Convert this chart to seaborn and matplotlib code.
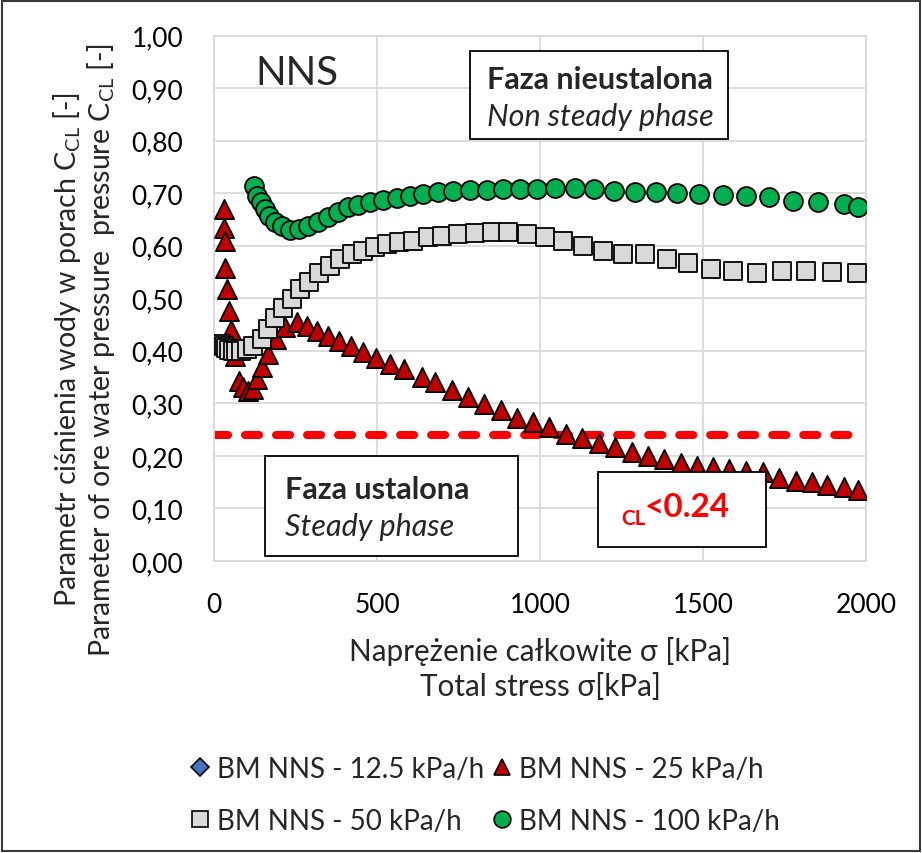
import numpy as np
import pandas as pd
import seaborn as sns
import matplotlib.pyplot as plt
from matplotlib import patches
from matplotlib.lines import Line2D

# ------------------------------------------------------------------
# Data (total stress [kPa] vs C_CL [-])
# ------------------------------------------------------------------
# BM NNS - 12.5 kPa/h : no visible points (legend entry only)
x_125 = []
y_125 = []

# BM NNS - 25 kPa/h (red triangles)
x_25 = [31, 31, 34, 34, 40, 46, 52, 64, 77, 90, 105, 120, 132, 147, 166, 190,
        218, 254, 285, 315, 349, 383, 420, 457, 497, 540, 583, 637, 678, 730,
        779, 828, 880, 929, 979, 1028, 1080, 1129, 1181, 1230, 1282, 1331,
        1380, 1432, 1482, 1531, 1580, 1632, 1684, 1733, 1785, 1834, 1880,
        1933, 1975]
y_25 = [0.670, 0.634, 0.609, 0.558, 0.518, 0.476, 0.440, 0.390, 0.343, 0.331,
        0.324, 0.327, 0.346, 0.369, 0.394, 0.422, 0.445, 0.455, 0.447, 0.438,
        0.428, 0.419, 0.409, 0.398, 0.386, 0.375, 0.366, 0.350, 0.341, 0.326,
        0.312, 0.299, 0.288, 0.272, 0.265, 0.255, 0.242, 0.234, 0.225, 0.217,
        0.207, 0.200, 0.194, 0.186, 0.181, 0.179, 0.175, 0.171, 0.169, 0.158,
        0.152, 0.150, 0.145, 0.141, 0.135]

# BM NNS - 50 kPa/h (grey squares)
x_50 = [22, 30, 38, 47, 57, 68, 83, 100, 120, 147, 166, 187, 211, 239, 264,
        291, 322, 356, 387, 423, 457, 494, 531, 567, 610, 656, 699, 749, 801,
        852, 902, 960, 1015, 1071, 1132, 1193, 1255, 1322, 1389, 1454, 1525,
        1592, 1666, 1742, 1816, 1896, 1972]
y_50 = [0.412, 0.410, 0.405, 0.402, 0.400, 0.399, 0.400, 0.403, 0.410, 0.423,
        0.441, 0.462, 0.481, 0.499, 0.518, 0.531, 0.548, 0.561, 0.575, 0.584,
        0.590, 0.598, 0.603, 0.607, 0.609, 0.617, 0.619, 0.622, 0.624, 0.626,
        0.626, 0.622, 0.617, 0.609, 0.600, 0.590, 0.584, 0.584, 0.575, 0.567,
        0.556, 0.552, 0.548, 0.552, 0.552, 0.550, 0.548]

# BM NNS - 100 kPa/h (green circles)
x_100 = [123, 132, 144, 156, 169, 187, 208, 233, 261, 288, 319, 350, 380, 411,
         442, 478, 518, 561, 601, 642, 687, 733, 785, 837, 887, 939, 991, 1046,
         1107, 1166, 1227, 1291, 1356, 1420, 1488, 1561, 1632, 1702, 1776,
         1853, 1933, 1975]
y_100 = [0.714, 0.695, 0.683, 0.670, 0.657, 0.645, 0.637, 0.630, 0.632, 0.638,
         0.645, 0.655, 0.664, 0.673, 0.678, 0.683, 0.687, 0.691, 0.695, 0.698,
         0.702, 0.704, 0.706, 0.706, 0.708, 0.708, 0.708, 0.710, 0.710, 0.708,
         0.704, 0.702, 0.702, 0.700, 0.698, 0.697, 0.695, 0.693, 0.685, 0.683,
         0.679, 0.674]

threshold = 0.24
threshold_x = [0, 1970]

x_ticks = [0, 500, 1000, 1500, 2000]
y_ticks = [0.0, 0.1, 0.2, 0.3, 0.4, 0.5, 0.6, 0.7, 0.8, 0.9, 1.0]
y_ticklabels = [f"{v:.2f}".replace(".", ",") for v in y_ticks]

series = [
    # name, x, y, marker, fill, size
    ("BM NNS - 12.5 kPa/h", x_125, y_125, "D", "#4472C4", 100),
    ("BM NNS - 25 kPa/h", x_25, y_25, "^", "#C00000", 190),
    ("BM NNS - 50 kPa/h", x_50, y_50, "s", "#D9D9D9", 170),
    ("BM NNS - 100 kPa/h", x_100, y_100, "o", "#00B050", 185),
]

# ------------------------------------------------------------------
# Style
# ------------------------------------------------------------------
sns.set_theme(style="white")
plt.rcParams["font.family"] = ["Lato", "DejaVu Sans"]
plt.rcParams["mathtext.fontset"] = "custom"
plt.rcParams["mathtext.rm"] = "Lato"
plt.rcParams["mathtext.it"] = "Lato:italic"
plt.rcParams["mathtext.bf"] = "Lato:bold"
fs_tick = 19
fs_text = 22

fig = plt.figure(figsize=(9.22, 8.54), dpi=100)
ax = fig.add_axes([214 / 922, 1 - 562 / 854, 652 / 922, 525.5 / 854])

# ------------------------------------------------------------------
# Series
# ------------------------------------------------------------------
for i, (name, xs, ys, mk, col, size) in enumerate(series):
    if len(xs) == 0:
        continue
    d = pd.DataFrame({"stress": xs, "ccl": ys})
    sns.scatterplot(data=d, x="stress", y="ccl", marker=mk, color=col, s=size,
                    edgecolor="black", linewidth=1.3, ax=ax, zorder=3 + i,
                    legend=False)

ax.hlines(threshold, threshold_x[0], threshold_x[1], colors="#FF0000",
          linewidth=5.8, linestyles=(0, (1.75, 2.1)), capstyle="round", zorder=2)

ax.set_xlim(0, 2000)
ax.set_ylim(0, 1.0)
ax.set_xticks(x_ticks)
ax.set_yticks(y_ticks)
ax.set_yticklabels(y_ticklabels)
ax.tick_params(axis="both", length=0, labelsize=fs_tick, colors="#000000")
ax.tick_params(axis="x", pad=22)
ax.tick_params(axis="y", pad=22)
ax.grid(True, color="#D9D9D9", linewidth=1.3)
ax.set_axisbelow(True)
for sp in ax.spines.values():
    sp.set_color("#D9D9D9")
    sp.set_linewidth(1.3)
ax.set_xlabel("")
ax.set_ylabel("")

# ------------------------------------------------------------------
# Annotations
# ------------------------------------------------------------------
ax.text(255, 0.93, "NNS", fontsize=29, ha="center", va="center", zorder=8)

ax.add_patch(patches.Rectangle((785, 0.803), 792, 0.167, facecolor="white",
                               edgecolor="black", linewidth=1.3, zorder=7))
ax.text(836, 0.917, "Faza nieustalona", fontsize=fs_text, fontweight="bold",
        ha="left", va="center", zorder=8)
ax.text(836, 0.847, "Non steady phase", fontsize=fs_text, style="italic",
        ha="left", va="center", zorder=8)

ax.add_patch(patches.Rectangle((156, 0.0095), 777, 0.19, facecolor="white",
                               edgecolor="black", linewidth=1.3, zorder=7))
ax.text(218, 0.137, "Faza ustalona", fontsize=fs_text, fontweight="bold",
        ha="left", va="center", zorder=8)
ax.text(218, 0.067, "Steady phase", fontsize=fs_text, style="italic",
        ha="left", va="center", zorder=8)

ax.add_patch(patches.Rectangle((1178, 0.027), 515, 0.142, facecolor="white",
                               edgecolor="black", linewidth=1.3, zorder=7))
ax.text(1250, 0.07, "CL", fontsize=15, fontweight="bold", color="#FF0000",
        ha="left", va="baseline", zorder=8)
ax.text(1320, 0.085, "<0.24", fontsize=24, fontweight="bold", color="#FF0000",
        ha="left", va="baseline", zorder=8)

# axis titles
fig.text(84 / 922, 1 - 350 / 854,
         "Parametr ciśnienia wody w porach C$_{\\mathrm{CL}}$ [-]\n"
         "Parameter of ore water pressure  pressure C$_{\\mathrm{CL}}$ [-]",
         rotation=90, ha="center", va="center", fontsize=20.5,
         multialignment="center", linespacing=1.1)
fig.text(540 / 922, 1 - 669 / 854,
         "Naprężenie całkowite σ [kPa]\nTotal stress σ[kPa]",
         ha="center", va="center", fontsize=21.3, multialignment="center",
         linespacing=1.3)

# ------------------------------------------------------------------
# Legend (row 1: 12.5, 25 ; row 2: 50, 100)
# ------------------------------------------------------------------
handles = {}
for name, xs, ys, mk, col, size in series:
    msz = {"D": 9, "^": 11, "s": 11, "o": 12}[mk]
    handles[name] = Line2D([], [], linestyle="none", marker=mk, markersize=msz,
                           markerfacecolor=col, markeredgecolor="black",
                           markeredgewidth=1.2)
order = [series[0][0], series[2][0], series[1][0], series[3][0]]
fig.legend([handles[n] for n in order], order, loc="center left",
           bbox_to_anchor=(192 / 922, 1 - 796 / 854), ncol=2, frameon=False,
           fontsize=20, handlelength=0.6, handletextpad=0.3,
           columnspacing=0.35, labelspacing=0.95, borderpad=0,
           borderaxespad=0)

fig.add_artist(patches.Rectangle((0.002, 0.002), 0.996, 0.996,
                                 transform=fig.transFigure, fill=False,
                                 edgecolor="#3A3A3A", linewidth=1.5))

fig.savefig("out.png", dpi=100)
